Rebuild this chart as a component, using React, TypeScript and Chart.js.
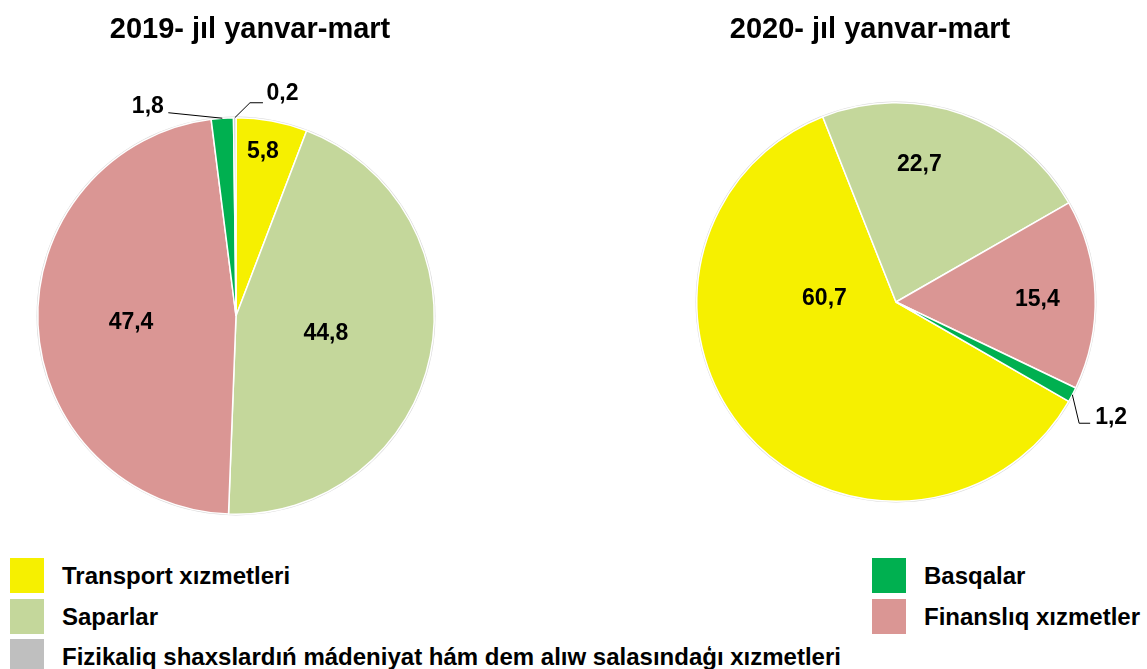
import React, { useEffect, useRef } from "react";
import { Chart, registerables } from "chart.js";

Chart.register(...registerables);

// ---- data ----
const categories = [
  "Transport xızmetleri",
  "Saparlar",
  "Finanslıq xızmetler",
  "Basqalar",
  "Fizikaliq shaxslardıń mádeniyat hám dem alıw salasındaģı xızmetleri",
];
const values2019 = [5.8, 44.8, 47.4, 1.8, 0.2];
const values2020 = [60.7, 22.7, 15.4, 1.2, 0];
const colors = ["#F6F000", "#C4D79B", "#DA9694", "#00B050", "#BFBFBF"];
const titles = ["2019- jıl yanvar-mart", "2020- jıl yanvar-mart"];
// legend layout: two columns of category indexes
const legendColumns = [
  [0, 1, 4],
  [3, 2],
];

const FONT = '"Liberation Sans", Arial, sans-serif';

type LabelCfg =
  | { f: number; rf: number }
  | { path: number[][]; align: "left" | "right"; tx: number; ty: number };

const fmt = (v: number) => v.toFixed(1).replace(".", ",");

const labelPlugin = {
  id: "sliceLabels",
  beforeDatasetsDraw(chart: any) {
    const meta = chart.getDatasetMeta(0);
    const a0 = meta.data[0];
    if (!a0) return;
    const ctx = chart.ctx;
    ctx.save();
    ctx.beginPath();
    ctx.arc(a0.x, a0.y, a0.outerRadius + 1.2, 0, Math.PI * 2);
    ctx.fillStyle = "rgba(0,0,0,0.16)";
    ctx.fill();
    ctx.restore();
  },
  afterDatasetsDraw(chart: any, _args: any, opts: any) {
    const ctx = chart.ctx;
    const meta = chart.getDatasetMeta(0);
    const data = chart.data.datasets[0].data as number[];
    const cfgs: (LabelCfg | null)[] = opts.labels || [];
    ctx.save();
    ctx.font = `bold 23px ${FONT}`;
    ctx.fillStyle = "#000";
    ctx.textBaseline = "alphabetic";
    meta.data.forEach((arc: any, i: number) => {
      const cfg = cfgs[i];
      if (!cfg || !data[i]) return;
      const { x, y, startAngle, endAngle, outerRadius } = arc.getProps(
        ["x", "y", "startAngle", "endAngle", "outerRadius"],
        true
      );
      const text = fmt(data[i]);
      if ("f" in cfg) {
        const a = startAngle + cfg.f * (endAngle - startAngle);
        const px = x + Math.cos(a) * outerRadius * cfg.rf;
        const py = y + Math.sin(a) * outerRadius * cfg.rf;
        ctx.textAlign = "center";
        ctx.fillText(text, px, py + 23 * 0.358);
      } else {
        const a = (startAngle + endAngle) / 2;
        const ax = x + Math.cos(a) * outerRadius;
        const ay = y + Math.sin(a) * outerRadius;
        ctx.beginPath();
        ctx.moveTo(ax, ay);
        let ex = ax,
          ey = ay;
        cfg.path.forEach(([dx, dy]) => {
          ex = ax + dx;
          ey = ay + dy;
          ctx.lineTo(ex, ey);
        });
        ctx.strokeStyle = "#000";
        ctx.lineWidth = 1;
        ctx.stroke();
        ctx.textAlign = cfg.align;
        ctx.fillText(text, ex + cfg.tx, ey + cfg.ty);
      }
    });
    ctx.restore();
  },
};

interface PieProps {
  values: number[];
  rotation: number;
  left: number;
  width: number;
  height: number;
  padding: { left: number; right: number; top: number; bottom: number };
  labels: (LabelCfg | null)[];
}

const PieCanvas: React.FC<PieProps> = ({ values, rotation, left, width, height, padding, labels }) => {
  const ref = useRef<HTMLCanvasElement | null>(null);
  useEffect(() => {
    if (!ref.current) return;
    const chart = new Chart(ref.current, {
      type: "pie",
      data: {
        labels: categories,
        datasets: [
          {
            data: values,
            backgroundColor: colors,
            borderColor: "#FFFFFF",
            borderWidth: 1.5,
            hoverBorderWidth: 1.5,
            hoverOffset: 0,
          },
        ],
      },
      options: {
        responsive: false,
        animation: false,
        events: [],
        rotation,
        layout: { padding },
        plugins: {
          legend: { display: false },
          tooltip: { enabled: false },
          title: { display: false },
          sliceLabels: { labels },
        } as any,
      },
      plugins: [labelPlugin],
    });
    return () => chart.destroy();
  }, []);
  return (
    <canvas
      ref={ref}
      width={width}
      height={height}
      style={{ position: "absolute", left, top: 0, width, height }}
    />
  );
};

const labels2019: (LabelCfg | null)[] = [
  { f: 0.44, rf: 0.85 },
  { f: 0.49, rf: 0.46 },
  { f: 0.5, rf: 0.53 },
  { path: [[-54, -5.5]], align: "right", tx: -4.5, ty: 0.5 },
  { path: [[15.2, -15], [28.2, -15]], align: "left", tx: 3.5, ty: -2.7 },
];
const labels2020: (LabelCfg | null)[] = [
  { f: 0.705, rf: 0.36 },
  { f: 0.38, rf: 0.71 },
  { f: 0.51, rf: 0.71 },
  { path: [[6.8, 28.5], [17.8, 28.5]], align: "left", tx: 5, ty: 0.5 },
  null,
];

const App: React.FC = () => {
  const titleStyle = (cx: number): React.CSSProperties => ({
    position: "absolute",
    left: cx - 250,
    width: 500,
    top: 13.5,
    textAlign: "center",
    font: `bold 29px/29px ${FONT}`,
    color: "#000",
    whiteSpace: "nowrap",
  });
  const legendX = [10, 872];
  const rowTops = [558, 599, 639];
  return (
    <div
      style={{
        position: "absolute",
        left: 0,
        top: 0,
        width: 1147,
        height: 669,
        background: "#fff",
        overflow: "hidden",
      }}
    >
      <PieCanvas
        values={values2019}
        rotation={0}
        left={0}
        width={560}
        height={540}
        padding={{ left: 37, right: 125, top: 117, bottom: 25 }}
        labels={labels2019}
      />
      <PieCanvas
        values={values2020}
        rotation={119.9}
        left={560}
        width={587}
        height={540}
        padding={{ left: 136, right: 51, top: 102, bottom: 38 }}
        labels={labels2020}
      />
      <div style={titleStyle(250)}>{titles[0]}</div>
      <div style={titleStyle(870)}>{titles[1]}</div>
      {legendColumns.map((col, ci) =>
        col.map((idx, ri) => (
          <React.Fragment key={`${ci}-${ri}`}>
            <div
              style={{
                position: "absolute",
                left: legendX[ci],
                top: rowTops[ri],
                width: 34,
                height: 35,
                background: colors[idx],
              }}
            />
            <div
              style={{
                position: "absolute",
                left: legendX[ci] + 52,
                top: rowTops[ri] + 5.5,
                font: `bold 24px/24px ${FONT}`,
                color: "#000",
                whiteSpace: "nowrap",
              }}
            >
              {categories[idx]}
            </div>
          </React.Fragment>
        ))
      )}
    </div>
  );
};

export default App;
